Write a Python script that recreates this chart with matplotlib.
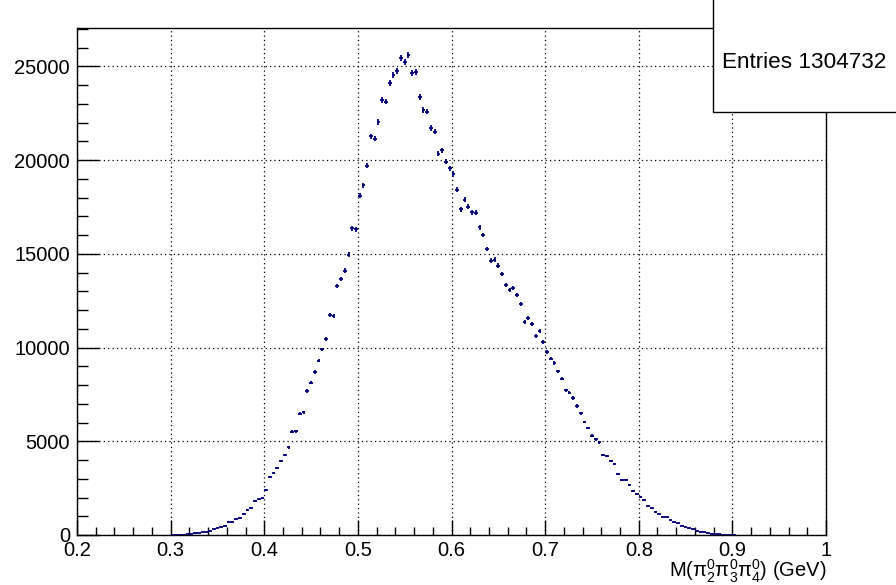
import numpy as np
import matplotlib
matplotlib.use("Agg")
from matplotlib import pyplot as plt
from matplotlib.patches import Rectangle
from matplotlib.ticker import MultipleLocator

plt.rcParams['font.family'] = ['Liberation Sans', 'DejaVu Sans']
plt.rcParams['mathtext.fontset'] = 'custom'
plt.rcParams['mathtext.rm'] = 'Liberation Sans'
plt.rcParams['mathtext.it'] = 'Liberation Sans'

# histogram: 200 bins on [0.2, 1.0], only the filled range is listed
bin_width = 0.004
first_center = 0.302
counts = [
    2, 5, 12, 25, 42, 65, 88, 110, 135, 170,
    240, 320, 373, 443, 505, 678, 678, 862, 924, 1121,
    1334, 1415, 1831, 1900, 1991, 2420, 3087, 3308, 3567, 3949,
    4261, 4679, 5520, 5525, 6465, 6547, 7684, 8129, 8700, 9300,
    9900, 10450, 11750, 11700, 13300, 13650, 14100, 14950, 16366, 16316,
    18106, 18660, 19707, 21275, 21147, 22039, 23212, 23122, 24119, 24563,
    24760, 25470, 25256, 25598, 24653, 24706, 23372, 22663, 22588, 21702,
    21521, 20347, 20528, 19920, 19568, 19264, 18410, 17380, 17892, 17503,
    17220, 17198, 16419, 16009, 15261, 14637, 14690, 14370, 13911, 13340,
    13057, 13164, 12823, 12343, 11350, 11596, 11243, 10635, 10870, 10283,
    9781, 9408, 9162, 8735, 8340, 7721, 7594, 7310, 6884, 6494,
    6030, 5710, 5299, 5107, 4947, 4269, 4216, 3933, 3805, 3239,
    2951, 2951, 2668, 2348, 2188, 2012, 1884, 1564, 1425, 1227,
    1137, 977, 945, 790, 680, 620, 500, 445, 360, 300,
    235, 180, 140, 110, 80, 55, 35, 20, 10, 5, 2,
]
entries = 1304732

counts = np.array(counts, dtype=float)
centers = first_center + bin_width * np.arange(len(counts))

fig = plt.figure(figsize=(8.96, 5.85), dpi=100)
ax = fig.add_axes([77/896, 50/585, 749/896, 507/585])

ax.errorbar(centers, counts, xerr=bin_width/2, yerr=np.sqrt(counts),
            fmt='none', ecolor='#00007a', elinewidth=1.3, capsize=0, zorder=3)

ax.set_xlim(0.2, 1.0)
ax.set_ylim(0, 27050)
ax.xaxis.set_major_locator(MultipleLocator(0.1))
ax.xaxis.set_minor_locator(MultipleLocator(0.02))
ax.yaxis.set_major_locator(MultipleLocator(5000))
ax.yaxis.set_minor_locator(MultipleLocator(1000))
ax.set_xticks([0.2, 0.3, 0.4, 0.5, 0.6, 0.7, 0.8, 0.9, 1.0])
ax.set_xticklabels(['0.2', '0.3', '0.4', '0.5', '0.6', '0.7', '0.8', '0.9', '1'])

ax.grid(True, which='major', color='black', linestyle=(0, (1, 2.5)), linewidth=0.9)
ax.tick_params(axis='x', which='major', direction='in', length=11, width=1, labelsize=14.5, pad=4)
ax.tick_params(axis='x', which='minor', direction='in', length=5.5, width=1)
ax.tick_params(axis='y', which='major', direction='in', length=16, width=1, labelsize=14.5, pad=5)
ax.tick_params(axis='y', which='minor', direction='in', length=8, width=1)
for s in ax.spines.values():
    s.set_linewidth(1)

ax.set_xlabel(r'M($\mathregular{\pi^{0}_{2}\pi^{0}_{3}\pi^{0}_{4}}$) (GeV)', fontsize=14.5)
ax.xaxis.set_label_coords(1.0, -0.045)
ax.xaxis.label.set_horizontalalignment('right')

# stats box
fig.patches.append(Rectangle((713/896, 1 - 112/585), 200/896, 120/585,
                             transform=fig.transFigure, facecolor='white',
                             edgecolor='black', linewidth=1, zorder=10))
fig.text(722/896, 1 - 62/585, 'Entries %d' % entries, fontsize=16.2,
         va='center', ha='left', zorder=11)

fig.savefig('out.png', dpi=100)
